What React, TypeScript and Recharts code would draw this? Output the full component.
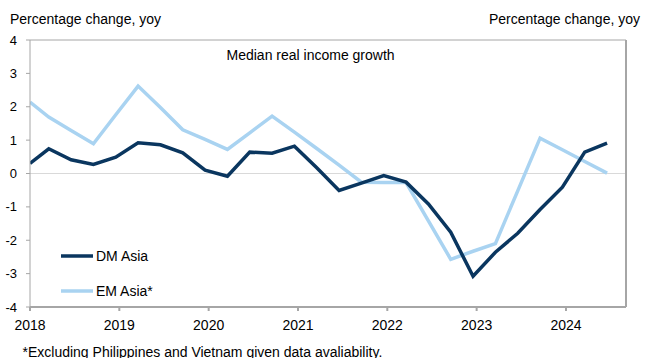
import { LineChart, Line, XAxis, YAxis, ReferenceLine } from "recharts";

// quarterly observations, as year fractions (first point sits on the axis start)
const periods = [
  2018.0, 2018.21, 2018.46, 2018.71, 2018.96,
  2019.21, 2019.46, 2019.71, 2019.96,
  2020.21, 2020.46, 2020.71, 2020.96,
  2021.21, 2021.46, 2021.71, 2021.96,
  2022.21, 2022.46, 2022.71, 2022.96,
  2023.21, 2023.46, 2023.71, 2023.96,
  2024.21, 2024.46,
];

const dmAsia = [
  0.3, 0.74, 0.41, 0.27, 0.49,
  0.92, 0.86, 0.62, 0.1,
  -0.08, 0.64, 0.61, 0.82,
  0.17, -0.51, -0.29, -0.06,
  -0.26, -0.91, -1.76, -3.08,
  -2.36, -1.79, -1.08, -0.41,
  0.64, 0.91,
];

const emAsia = [
  2.14, 1.69, 1.29, 0.89, 1.76,
  2.62, 1.98, 1.31, 1.02,
  0.72, 1.22, 1.72, 1.24,
  0.75, 0.25, -0.26, -0.27,
  -0.27, -1.42, -2.57, -2.33,
  -2.1, -0.52, 1.06, 0.71,
  0.36, 0.01,
];

const yearTicks = [2018, 2019, 2020, 2021, 2022, 2023, 2024];
const valueTicks = [-4, -3, -2, -1, 0, 1, 2, 3, 4];

const DM_COLOR = "#0a365f";
const EM_COLOR = "#a9d3f1";
const AXIS = "#a6a6a6";
const FONT = "'Liberation Sans', Arial, sans-serif";

const rows = periods.map((t, i) => ({ t, dm: dmAsia[i], em: emAsia[i] }));

export default function App() {
  return (
    <div style={{ position: "absolute", left: 0, top: 0, width: 647, height: 358, background: "#fff", fontFamily: FONT }}>
      <LineChart width={647} height={358} data={rows} margin={{ top: 40, right: 0, left: 0, bottom: 0 }}>
        <XAxis
          dataKey="t"
          type="number"
          domain={[2018, 2024.672]}
          ticks={yearTicks}
          allowDataOverflow
          height={51}
          stroke={AXIS}
          strokeWidth={2}
          tickSize={4}
          tickMargin={9}
          tick={{ fill: "#000", fontSize: 14, fontFamily: FONT }}
          tickFormatter={(v) => String(v)}
        />
        <YAxis
          yAxisId="left"
          domain={[-4, 4]}
          ticks={valueTicks}
          width={30}
          stroke={AXIS}
          tickSize={4}
          tickMargin={9}
          tick={{ fill: "#000", fontSize: 13, fontFamily: FONT }}
        />
        <YAxis
          yAxisId="right"
          orientation="right"
          domain={[-4, 4]}
          ticks={valueTicks}
          width={21}
          stroke={AXIS}
          strokeWidth={2}
          tickSize={3}
          tickMargin={9}
          tick={{ fill: "#000", fontSize: 13, fontFamily: FONT, textAnchor: "start" }}
        />
        <ReferenceLine yAxisId="left" y={0} stroke="#d9d9d9" strokeWidth={1} />
        <ReferenceLine yAxisId="left" y={4} stroke={AXIS} strokeWidth={1} />
        <Line
          yAxisId="left"
          dataKey="em"
          type="linear"
          stroke={EM_COLOR}
          strokeWidth={3.5}
          dot={false}
          isAnimationActive={false}
        />
        <Line
          yAxisId="left"
          dataKey="dm"
          type="linear"
          stroke={DM_COLOR}
          strokeWidth={3.5}
          dot={false}
          isAnimationActive={false}
        />
      </LineChart>
      <svg
        width={647}
        height={358}
        style={{ position: "absolute", left: 0, top: 0, pointerEvents: "none" }}
        fontFamily={FONT}
        fontSize={14}
      >
        <text x={10} y={23.5} fill="#000">Percentage change, yoy</text>
        <text x={489} y={23.5} fill="#000">Percentage change, yoy</text>
        <text x={226.5} y={60} fill="#000">Median real income growth</text>
        <line x1={61} x2={93} y1={256} y2={256} stroke={DM_COLOR} strokeWidth={3.5} />
        <text x={96} y={261} fill="#000">DM Asia</text>
        <line x1={61} x2={93} y1={291} y2={291} stroke={EM_COLOR} strokeWidth={3.5} />
        <text x={96} y={296} fill="#000">EM Asia*</text>
        <text x={22.5} y={356.5} fill="#000">*Excluding Philippines and Vietnam given data avaliability.</text>
      </svg>
    </div>
  );
}
